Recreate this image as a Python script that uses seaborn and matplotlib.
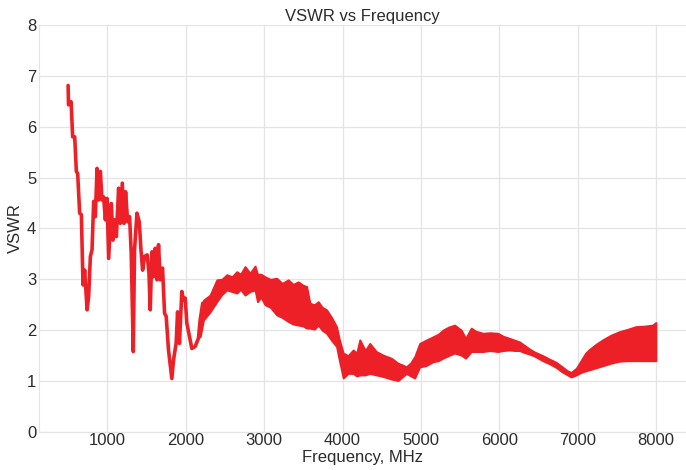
import matplotlib
matplotlib.use("Agg")
import matplotlib.pyplot as plt
import seaborn as sns
import pandas as pd

# low-band trace, read point by point (MHz, VSWR)
freq_low = [500, 505, 538, 558, 584, 605, 622, 647, 669, 690, 711, 742, 762, 784,
            805, 826, 847, 869, 889, 911, 932, 953, 975, 996, 1017, 1051, 1072,
            1093, 1115, 1144, 1165, 1191, 1212, 1233, 1259, 1284, 1305, 1331,
            1347, 1378, 1407, 1429, 1450, 1475, 1509, 1531, 1547, 1569, 1589,
            1611, 1633, 1653, 1675, 1704, 1730, 1751, 1780, 1823, 1844, 1878,
            1896, 1920, 1950, 1971, 1993, 2014, 2056, 2078, 2120, 2162, 2184, 2217]
vswr_low = [6.81, 6.43, 6.49, 5.80, 5.80, 5.12, 5.08, 4.30, 4.27, 2.89, 3.18, 2.40,
            2.66, 3.45, 3.58, 4.53, 4.23, 5.18, 4.56, 5.12, 4.56, 4.62, 4.17, 4.59,
            3.41, 4.49, 3.77, 4.17, 3.84, 4.79, 4.10, 4.89, 4.10, 4.72, 4.13, 4.23,
            3.51, 1.58, 3.58, 4.30, 4.13, 3.58, 3.18, 3.45, 3.48, 3.12, 2.40, 3.54,
            3.05, 3.61, 2.99, 3.68, 2.99, 3.22, 2.33, 2.27, 1.61, 1.05, 1.41, 1.75,
            2.36, 1.74, 2.76, 2.59, 2.63, 2.14, 1.81, 1.64, 1.68, 1.84, 2.20, 2.53]

# above ~2.2 GHz the trace ripples fast; read as lower / upper envelope
freq_band = [2184, 2226, 2311, 2396, 2460, 2524, 2590, 2651, 2700, 2756, 2820, 2884,
             2915, 2960, 3011, 3080, 3160, 3230, 3307, 3370, 3434, 3500, 3541, 3584,
             3640, 3690, 3740, 3796, 3860, 3923, 3960, 4008, 4070, 4135, 4180, 4220,
             4290, 4347, 4430, 4517, 4620, 4708, 4760, 4814, 4870, 4920, 4984, 5060,
             5153, 5220, 5280, 5350, 5429, 5514, 5569, 5641, 5700, 5789, 5880, 5980,
             6050, 6129, 6200, 6257, 6320, 6384, 6450, 6553, 6640, 6723, 6800, 6870,
             6914, 6980, 7041, 7100, 7147, 7230, 7317, 7420, 7529, 7640, 7741, 7850,
             7953, 7996]
vswr_band_lo = [1.87, 2.20, 2.36, 2.56, 2.70, 2.79, 2.76, 2.73, 2.80, 2.69, 2.76, 2.79,
                2.56, 2.65, 2.50, 2.45, 2.30, 2.25, 2.17, 2.12, 2.10, 2.08, 2.04, 2.04,
                2.02, 2.10, 2.00, 1.94, 1.80, 1.68, 1.40, 1.06, 1.15, 1.15, 1.10, 1.12,
                1.12, 1.15, 1.12, 1.09, 1.04, 1.01, 1.08, 1.15, 1.10, 1.06, 1.28, 1.30,
                1.38, 1.40, 1.45, 1.50, 1.55, 1.51, 1.45, 1.58, 1.58, 1.58, 1.60, 1.58,
                1.60, 1.61, 1.60, 1.60, 1.56, 1.53, 1.49, 1.40, 1.34, 1.27, 1.18, 1.12,
                1.08, 1.12, 1.17, 1.20, 1.22, 1.26, 1.30, 1.35, 1.39, 1.40, 1.40, 1.40,
                1.40, 1.40]
vswr_band_hi = [2.20, 2.59, 2.69, 2.99, 3.00, 3.09, 3.05, 3.15, 3.10, 3.25, 3.12, 3.26,
                3.10, 3.10, 3.05, 3.00, 3.02, 2.92, 2.99, 2.90, 2.95, 2.88, 2.86, 2.53,
                2.50, 2.56, 2.45, 2.40, 2.25, 2.07, 1.81, 1.55, 1.50, 1.61, 1.55, 1.81,
                1.60, 1.74, 1.58, 1.51, 1.45, 1.35, 1.32, 1.28, 1.36, 1.48, 1.74, 1.80,
                1.87, 1.92, 2.00, 2.06, 2.10, 2.00, 1.84, 2.04, 1.98, 1.94, 1.95, 1.94,
                1.88, 1.84, 1.80, 1.77, 1.70, 1.63, 1.57, 1.50, 1.43, 1.37, 1.28, 1.20,
                1.17, 1.25, 1.40, 1.55, 1.62, 1.72, 1.81, 1.90, 1.97, 2.02, 2.07, 2.08,
                2.10, 2.15]

red = "#ee2027"
text_color = "#2b2b2b"
light = "#e4e4e4"

sns.set_style("whitegrid", {"grid.color": light, "axes.edgecolor": light})
plt.rcParams["font.family"] = ["Liberation Sans", "DejaVu Sans"]

fig = plt.figure(figsize=(6.86, 4.70), dpi=100)
ax = fig.add_axes([0.057, 0.081, 0.943, 0.866])

df_low = pd.DataFrame({"freq": freq_low, "vswr": vswr_low})
sns.lineplot(data=df_low, x="freq", y="vswr", color=red, linewidth=2.6, ax=ax)
ax.fill_between(freq_band, vswr_band_lo, vswr_band_hi, color=red,
                edgecolor=red, linewidth=1.4)

ax.set_xlim(130, 8380)
ax.set_ylim(0, 8)
ax.set_xticks(range(1000, 8001, 1000))
ax.set_yticks(range(0, 9))
ax.tick_params(axis="x", labelsize=12, colors=text_color, pad=1, length=0)
ax.tick_params(axis="y", labelsize=12, colors=text_color, pad=2, length=0)
ax.grid(True, linewidth=0.9)
for side in ["top", "right"]:
    ax.spines[side].set_visible(False)
ax.spines["bottom"].set_color(light)
ax.spines["left"].set_color(light)

ax.set_title("VSWR vs Frequency", fontsize=12, color=text_color, pad=3)
ax.set_xlabel("Frequency, MHz", fontsize=12, color=text_color, labelpad=1)
ax.set_ylabel("VSWR", fontsize=12, color=text_color, labelpad=3)

fig.savefig("out.png", dpi=100)
